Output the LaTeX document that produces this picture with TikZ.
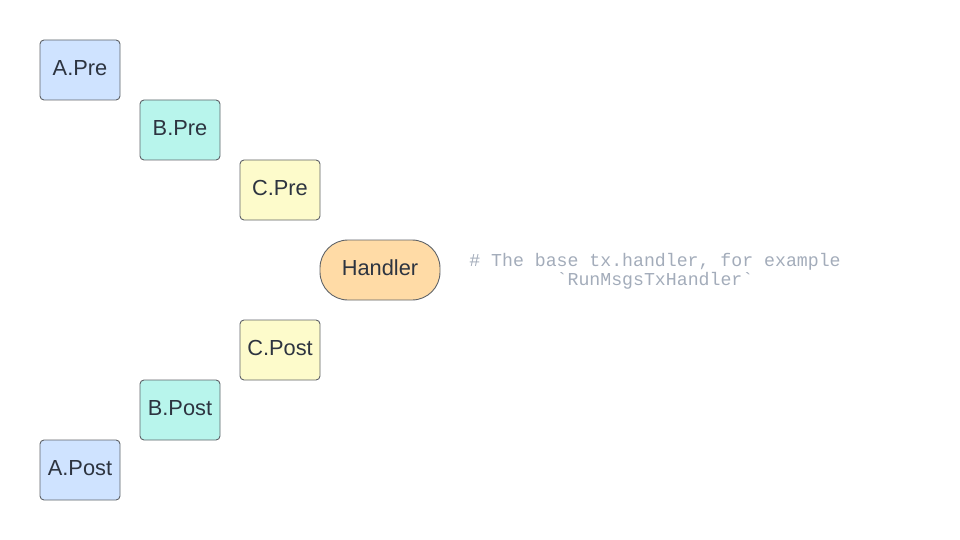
\documentclass[tikz,border=0pt]{standalone}
\usepackage{fontspec}
\setmainfont{Liberation Sans}
\setmonofont{Liberation Mono}
\usepackage{tikz}
\definecolor{boxline}{HTML}{5F6368}
\definecolor{txtdark}{HTML}{2D3440}
\definecolor{fillA}{HTML}{CFE3FF}
\definecolor{fillB}{HTML}{B8F5EC}
\definecolor{fillC}{HTML}{FDFBCB}
\definecolor{fillH}{HTML}{FFDBA6}
\definecolor{notegray}{HTML}{A3ACBA}
\tikzstyle{layer} = [draw=boxline, line width=0.9pt, rounded corners=4pt, minimum width=80pt, minimum height=60pt, inner sep=0pt, text depth=4pt, text=txtdark, font=\fontsize{21.8}{26}\selectfont]
\tikzstyle{handler} = [draw=boxline, line width=0.9pt, rounded corners=28pt, minimum width=120pt, minimum height=60pt, inner sep=0pt, text depth=4pt, fill=fillH, text=txtdark, font=\fontsize{21.8}{26}\selectfont]
\tikzstyle{note} = [text=notegray, align=center, font=\ttfamily\fontsize{18.2}{19}\selectfont]

\begin{document}
\begin{tikzpicture}[x=1pt, y=-1pt]
	\useasboundingbox (0,0) rectangle (960,540);
	% pre hooks
	\node[layer, fill=fillA] (apre) at (80,70) {A.Pre};
	\node[layer, fill=fillB] (bpre) at (180,130) {B.Pre};
	\node[layer, fill=fillC] (cpre) at (280,190) {C.Pre};
	% base handler
	\node[handler] (handler) at (380,270) {Handler};
	\node[note] (handlernote) at (655,271.5) {\# The base tx.handler, for example\\`RunMsgsTxHandler`};
	% post hooks
	\node[layer, fill=fillC] (cpost) at (280,350) {C.Post};
	\node[layer, fill=fillB] (bpost) at (180,410) {B.Post};
	\node[layer, fill=fillA] (apost) at (80,470) {A.Post};
\end{tikzpicture}
\end{document}
